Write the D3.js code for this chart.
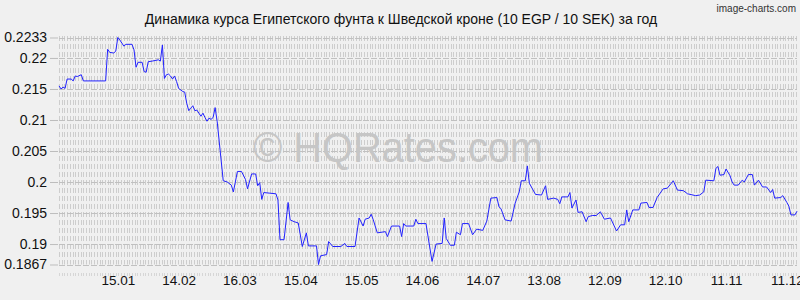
<!DOCTYPE html>
<html><head><meta charset="utf-8">
<script src="https://cdn.jsdelivr.net/npm/d3@7"></script>
<style>
html,body{margin:0;padding:0;background:#f0f0f0;}
svg{display:block;}
text{font-family:"Liberation Sans",Arial,sans-serif;}
</style></head>
<body><svg id="c" width="800" height="300"></svg>
<script>
const title = "Динамика курса Египетского фунта к Шведской кроне (10 EGP / 10 SEK) за год";
const dates = [
"2024-12-17","2024-12-18","2024-12-19","2024-12-20","2024-12-21","2024-12-23","2024-12-24","2024-12-25","2024-12-26","2024-12-28","2024-12-29",
"2025-01-09","2025-01-10","2025-01-11","2025-01-13","2025-01-14","2025-01-15","2025-01-16","2025-01-18","2025-01-19","2025-01-22","2025-01-23","2025-01-24","2025-01-25","2025-01-27","2025-01-28","2025-01-29","2025-01-30",
"2025-02-01","2025-02-04","2025-02-05","2025-02-06","2025-02-07","2025-02-08","2025-02-09","2025-02-10","2025-02-11","2025-02-12","2025-02-13","2025-02-14","2025-02-16","2025-02-17","2025-02-18","2025-02-19","2025-02-20","2025-02-21","2025-02-22","2025-02-23","2025-02-25","2025-02-26","2025-02-27","2025-02-28",
"2025-03-01","2025-03-02","2025-03-03","2025-03-04","2025-03-05","2025-03-08","2025-03-10","2025-03-12","2025-03-13","2025-03-15","2025-03-17","2025-03-19","2025-03-20","2025-03-22","2025-03-24","2025-03-25","2025-03-26","2025-03-27","2025-03-28","2025-03-31",
"2025-04-03","2025-04-04","2025-04-05","2025-04-07","2025-04-09","2025-04-10","2025-04-12","2025-04-14","2025-04-16","2025-04-18","2025-04-19","2025-04-23","2025-04-24","2025-04-25","2025-04-28","2025-04-29",
"2025-05-01","2025-05-05","2025-05-07","2025-05-08","2025-05-12","2025-05-14","2025-05-16","2025-05-17","2025-05-19","2025-05-20","2025-05-21","2025-05-23","2025-05-27","2025-05-28","2025-05-30",
"2025-06-03","2025-06-04","2025-06-05","2025-06-06","2025-06-10","2025-06-11","2025-06-12","2025-06-16","2025-06-18","2025-06-19","2025-06-21","2025-06-24","2025-06-25","2025-06-26","2025-06-28","2025-06-30",
"2025-07-01","2025-07-03","2025-07-04","2025-07-07","2025-07-09","2025-07-11","2025-07-14","2025-07-16","2025-07-18","2025-07-21","2025-07-22","2025-07-23","2025-07-25","2025-07-28","2025-07-30",
"2025-08-01","2025-08-02","2025-08-04","2025-08-05","2025-08-06","2025-08-09","2025-08-12","2025-08-14","2025-08-15","2025-08-18","2025-08-20","2025-08-21","2025-08-22","2025-08-25","2025-08-26","2025-08-27","2025-08-29","2025-08-30",
"2025-09-01","2025-09-03","2025-09-04","2025-09-06","2025-09-08","2025-09-10","2025-09-12","2025-09-15","2025-09-18","2025-09-20","2025-09-22","2025-09-23","2025-09-24","2025-09-26","2025-09-29","2025-09-30",
"2025-10-03","2025-10-04","2025-10-06","2025-10-08","2025-10-11","2025-10-13","2025-10-16","2025-10-18","2025-10-21","2025-10-23","2025-10-27","2025-10-29","2025-10-31",
"2025-11-01","2025-11-05","2025-11-06","2025-11-07","2025-11-08","2025-11-10","2025-11-11","2025-11-13","2025-11-14","2025-11-15","2025-11-17","2025-11-19","2025-11-20","2025-11-22","2025-11-24","2025-11-25","2025-11-27","2025-11-29",
"2025-12-01","2025-12-03","2025-12-04","2025-12-05","2025-12-08","2025-12-09","2025-12-11","2025-12-12","2025-12-13","2025-12-15","2025-12-16"
];
const rates = [
0.2155,0.2150,0.2153,0.2151,0.2166,0.2166,0.2163,0.2171,0.2170,0.2173,0.2163,
0.2163,0.2214,0.2209,0.2208,0.2211,0.2233,0.2229,0.2219,0.2222,0.2222,0.2213,0.2185,0.2193,0.2193,0.2178,0.2177,0.2194,
0.2195,0.2197,0.2195,0.2221,0.2167,0.2173,0.2174,0.2171,0.2166,0.2171,0.2162,0.2151,0.2146,0.2145,0.2127,0.2115,0.2119,0.2123,0.2115,0.2116,0.2106,0.2111,0.2104,0.2098,
0.2103,0.2101,0.2104,0.2120,0.2098,0.2002,0.2000,0.1995,0.1984,0.2017,0.2017,0.2004,0.1989,0.2013,0.2013,0.1994,0.1999,0.1972,0.1983,0.1982,
0.1981,0.1971,0.1907,0.1907,0.1967,0.1939,0.1936,0.1934,0.1896,0.1918,0.1897,0.1897,0.1867,0.1881,0.1883,0.1904,
0.1896,0.1896,0.1901,0.1896,0.1896,0.1942,0.1929,0.1940,0.1942,0.1948,0.1939,0.1918,0.1920,0.1912,0.1929,
0.1929,0.1912,0.1933,0.1929,0.1929,0.1940,0.1933,0.1933,0.1892,0.1872,0.1900,0.1901,0.1942,0.1909,0.1898,0.1898,
0.1919,0.1915,0.1933,0.1933,0.1915,0.1924,0.1922,0.1937,0.1974,0.1975,0.1960,0.1957,0.1939,0.1937,0.1966,
0.1984,0.2002,0.2002,0.2026,0.1998,0.1980,0.1979,0.1994,0.1972,0.1974,0.1972,0.1965,0.1976,0.1976,0.1983,0.1958,0.1971,0.1951,
0.1952,0.1936,0.1944,0.1946,0.1946,0.1952,0.1940,0.1942,0.1921,0.1931,0.1931,0.1955,0.1936,0.1955,0.1955,0.1966,
0.1967,0.1959,0.1959,0.1975,0.1989,0.1990,0.2002,0.1987,0.1986,0.1981,0.1978,0.1979,0.1984,
0.2003,0.2002,0.2022,0.2025,0.2011,0.2012,0.2021,0.2010,0.2000,0.1995,0.1995,0.2003,0.2000,0.2012,0.2012,0.1995,0.2003,0.1992,
0.1992,0.1983,0.1988,0.1974,0.1975,0.1978,0.1967,0.1961,0.1947,0.1947,0.1953
];
const domainStart = "2024-12-17", domainEnd = "2025-12-16";
const yTicks = [0.1867, 0.19, 0.195, 0.2, 0.205, 0.21, 0.215, 0.22, 0.2233];
const xTicks = ["2025-01-15","2025-02-14","2025-03-16","2025-04-15","2025-05-15","2025-06-14","2025-07-14","2025-08-13","2025-09-12","2025-10-12","2025-11-11","2025-12-11"];

const parse = d3.utcParse("%Y-%m-%d");
const fmt = d3.utcFormat("%d.%m");
const data = dates.map((d,i)=>({date:parse(d), v:rates[i]}));

const L=59, R=797, T=37.5, B=264.5;
const x = d3.scaleUtc().domain([parse(domainStart), parse(domainEnd)]).range([L,R]);
const y = d3.scaleLinear().domain([0.1867, 0.2233]).range([B,T]);

const svg = d3.select("#c");
svg.append("rect").attr("width",800).attr("height",300).attr("fill","#f0f0f0");

// background grid texture
const g = svg.append("g");
const cols = d3.range(L, R, 2.7).map(v=>Math.round(v)+0.5);
g.selectAll("line.v").data(cols).join("line")
  .attr("x1",d=>d).attr("x2",d=>d).attr("y1",T-1.5).attr("y2",B)
  .attr("stroke","#cdcdcd").attr("stroke-width",1).attr("stroke-dasharray","5,3");
g.selectAll("line.t").data(cols).join("line")
  .attr("x1",d=>d).attr("x2",d=>d).attr("y1",273).attr("y2",276)
  .attr("stroke","#d6d6d6").attr("stroke-width",1);
g.selectAll("line.h").data(yTicks).join("line")
  .attr("x1",L).attr("x2",R).attr("y1",d=>Math.round(y(d))+0.5).attr("y2",d=>Math.round(y(d))+0.5)
  .attr("stroke","#c0c0c0").attr("stroke-width",1).attr("stroke-dasharray","6,2");

// watermark
svg.append("text").attr("x",253).attr("y",162)
  .attr("font-size",42).attr("fill","#c6c6c6").attr("textLength",290).attr("lengthAdjust","spacingAndGlyphs")
  .text("© HQRates.com");

// y axis
const ya = svg.append("g").attr("transform",`translate(${L-1},0)`)
  .call(d3.axisLeft(y).tickValues(yTicks).tickFormat(d=>String(d)).tickSize(8).tickPadding(3));
ya.select(".domain").remove();
ya.selectAll(".tick line").attr("stroke","#bdbdbd");
ya.selectAll(".tick text").attr("font-size",14).attr("fill","#111").attr("font-family","Liberation Sans, Arial, sans-serif");

// x axis
const xa = svg.append("g").attr("transform",`translate(0,${B})`)
  .call(d3.axisBottom(x).tickValues(xTicks.map(parse)).tickFormat(fmt).tickSize(0).tickPadding(11));
xa.select(".domain").remove();
xa.selectAll(".tick text").attr("font-size",13.5).attr("fill","#111").attr("font-family","Liberation Sans, Arial, sans-serif");

// line
svg.append("path").datum(data)
  .attr("fill","none").attr("stroke","#2222ff").attr("stroke-width",1)
  .attr("d", d3.line().x(d=>x(d.date)).y(d=>y(d.v)));

// title
svg.append("text").attr("x",401).attr("y",24).attr("text-anchor","middle")
  .attr("font-size",14).attr("fill","#111").text(title);
svg.append("text").attr("x",796).attr("y",12).attr("text-anchor","end")
  .attr("font-size",10).attr("fill","#333").attr("font-family","DejaVu Sans Condensed, DejaVu Sans, sans-serif")
  .text("image-charts.com");
</script></body></html>
